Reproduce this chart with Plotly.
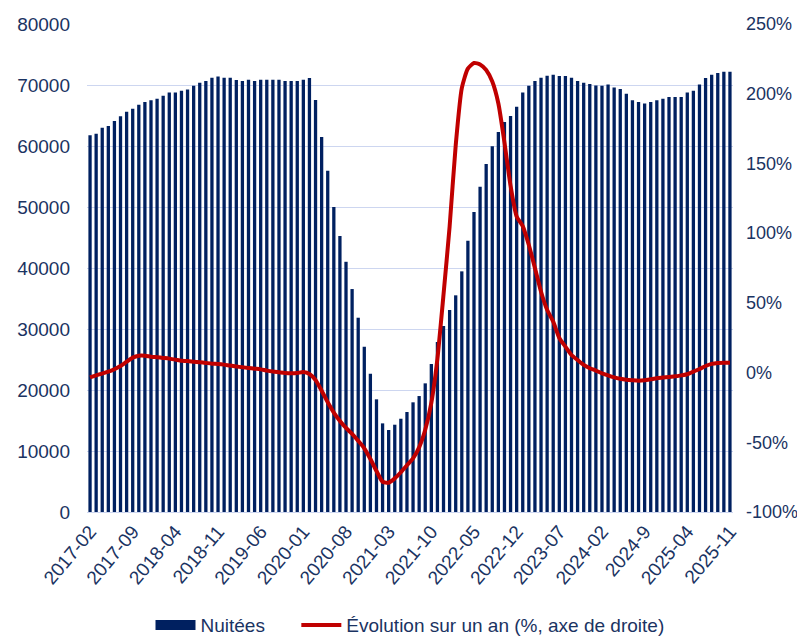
import plotly.graph_objects as go

# monthly categories 2017-02 .. 2025-11
months = [f"{2017 + (m + 1) // 12}-{(m + 1) % 12 + 1:02d}" for m in range(106)]

nuitees = [
    61750, 62000, 63000, 63270, 64090, 64860, 65620, 66100, 66770, 67200,
    67480, 67750, 68240, 68790, 68790, 69060, 69280, 69880, 70370, 70640,
    71190, 71410, 71190, 71190, 70800, 70640, 70860, 70640, 70860, 70860,
    70860, 70860, 70640, 70640, 70640, 70860, 71130, 67530, 61460, 55940,
    49990, 45240, 41020, 36550, 31850, 27090, 22670, 18470, 14530, 13440,
    14310, 15290, 16390, 17980, 19010, 21090, 24260, 27860, 30500, 33100,
    35520, 39450, 44460, 49170, 53320, 57040, 59940, 62280, 63920, 64900,
    66430, 68790, 69880, 70640, 71190, 71510, 71680, 71460, 71460, 71190,
    70640, 70370, 70150, 69930, 69880, 70100, 69600, 69330, 68560, 67480,
    67200, 66980, 67200, 67480, 67750, 68020, 68020, 68020, 68790, 69060,
    70100, 71130, 71680, 71950, 72170, 72170,
]

evolution = [
    -3.4, -2.0, -0.7, 0.6, 2.4, 4.7, 7.8, 10.7, 12.1, 12.1,
    11.4, 11.0, 10.5, 10.0, 9.3, 8.5, 8.3, 7.8, 7.4, 6.9,
    6.4, 6.2, 5.7, 5.0, 4.4, 3.8, 3.3, 2.8, 2.3, 1.4,
    0.7, 0.2, -0.3, -0.5, -0.3, 0.4, -1.0, -5.3, -13.0, -21.3,
    -28.7, -34.7, -39.7, -44.0, -49.0, -54.3, -62.0, -70.6, -78.3, -79.0,
    -75.9, -71.5, -66.5, -61.5, -53.6, -41.0, -21.8, 10.0, 56.0, 104.7,
    163.0, 204.0, 218.0, 222.0, 221.0, 217.0, 208.7, 193.0, 165.0, 134.0,
    112.0, 105.0, 91.5, 75.0, 58.0, 45.0, 36.5, 24.8, 18.6, 12.6,
    9.0, 5.5, 3.1, 1.4, -0.5, -2.0, -3.4, -4.4, -5.1, -5.5,
    -5.8, -5.5, -4.8, -4.1, -3.6, -3.1, -2.7, -2.0, -1.2, 0.7,
    2.6, 4.7, 6.2, 6.9, 7.1, 7.1,
]

tick_months = months[::7]
tick_labels = [
    "2017-02", "2017-09", "2018-04", "2018-11", "2019-06", "2020-01",
    "2020-08", "2021-03", "2021-10", "2022-05", "2022-12", "2023-07",
    "2024-02", "2024-9", "2025-04", "2025-11",
]
pct_ticks = [-100, -50, 0, 50, 100, 150, 200, 250]
pct_labels = ["-100%", "-50%", "0%", "50%", "100%", "150%", "200%", "250%"]

NAVY = "#002060"
RED = "#C00000"
TEXT = "#1A3362"
GRID = "#CDD6F0"
FONT = "Liberation Sans, Arial, sans-serif"

fig = go.Figure()
fig.add_trace(go.Bar(x=months, y=nuitees, marker_color=NAVY, marker_line_width=0,
                     showlegend=False, name="Nuitées"))
fig.add_trace(go.Scatter(x=months, y=evolution, yaxis="y2", mode="lines",
                         line=dict(color=RED, width=4, shape="spline", smoothing=0.6),
                         showlegend=False))
# legend entries (nbsp padding widens the gap between the two items)
fig.add_trace(go.Scatter(x=[None], y=[None], mode="lines", name="Nuitées" + "\u00a0" * 5,
                         line=dict(color=NAVY, width=10)))
fig.add_trace(go.Scatter(x=[None], y=[None], mode="lines",
                         name="Évolution sur un an (%, axe de droite)",
                         line=dict(color=RED, width=4)))

# page body has an 8px margin, so the figure is a bit smaller than the window
fig.update_layout(
    width=797, height=629,
    margin=dict(l=79, r=72, t=16, b=125, autoexpand=False),
    paper_bgcolor="white", plot_bgcolor="white",
    font=dict(family=FONT, size=19, color=TEXT),
    bargap=0.46,
    xaxis=dict(type="category", tickmode="array", tickvals=tick_months, ticktext=tick_labels,
               tickangle=-50, showgrid=False, showline=True, linecolor=GRID, linewidth=1,
               ticks="", range=[-0.5, len(months) - 0.5], automargin=False),
    yaxis=dict(range=[0, 80000], dtick=10000, showgrid=True, gridcolor=GRID, gridwidth=1,
               zeroline=False, showline=False, tickformat="d", ticklabelstandoff=16,
               automargin=False),
    yaxis2=dict(range=[-100, 250], tickmode="array", tickvals=pct_ticks, ticktext=pct_labels,
                overlaying="y", side="right", showgrid=False, zeroline=False,
                ticklabelstandoff=12, tickfont=dict(size=18), automargin=False),
    legend=dict(orientation="h", x=0.5, xanchor="center", y=-0.232, yanchor="middle",
                itemwidth=40),
)

fig.write_html("out.html")
